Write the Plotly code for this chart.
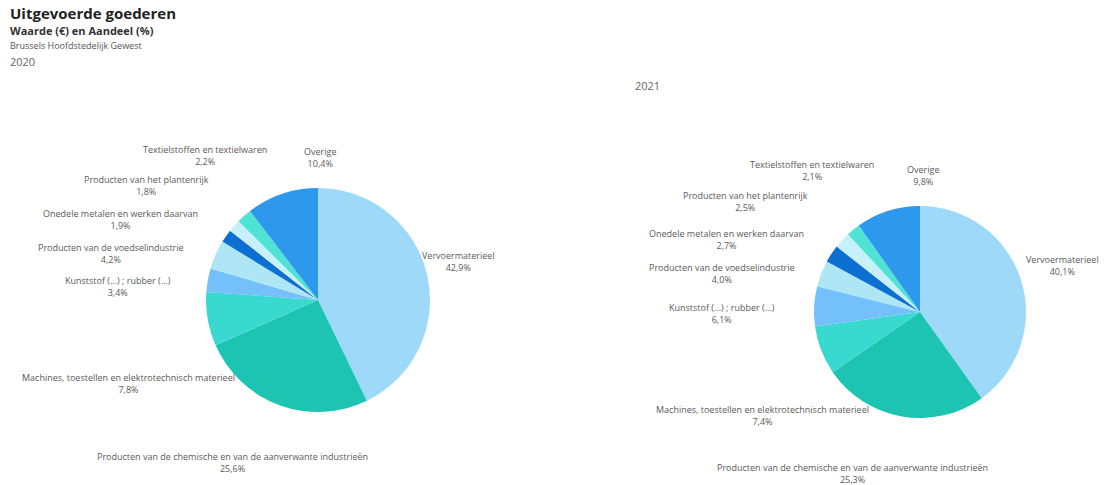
import plotly.graph_objects as go

categories = [
    "Vervoermaterieel",
    "Producten van de chemische en van de aanverwante industrieën",
    "Machines, toestellen en elektrotechnisch materieel",
    "Kunststof (...) ; rubber (...)",
    "Producten van de voedselindustrie",
    "Onedele metalen en werken daarvan",
    "Producten van het plantenrijk",
    "Textielstoffen en textielwaren",
    "Overige",
]
share_2020 = [42.9, 25.6, 7.8, 3.4, 4.2, 1.9, 1.8, 2.2, 10.4]
share_2021 = [40.1, 25.3, 7.4, 6.1, 4.0, 2.7, 2.5, 2.1, 9.8]
colors = ["#9fd9fa", "#1cc4b1", "#3ad9cf", "#74c0fb", "#aee6f5",
          "#0c6fd2", "#c8f0fa", "#4fe3d6", "#2e98ec"]

W, H = 1109, 485

# label anchor positions (window pixels) per category, per year
pos_2020 = [(458, 261), (232, 462), (128, 383), (118, 286), (111, 253),
            (120, 220), (146, 186), (205, 155), (320, 158)]
pos_2021 = [(1062, 265), (852, 473), (762, 415), (722, 313), (722, 273),
            (726, 239), (745, 201), (812, 170), (923, 175)]

def fx(px):
    return px / W

def fy(py):
    return 1 - py / H

def fmt(v):
    return f"{v:.1f}".replace(".", ",") + "%"

fig = go.Figure()

def add_pie(values, cx, cy, r):
    fig.add_trace(go.Pie(
        labels=categories, values=values, sort=False, direction="clockwise",
        rotation=0, marker=dict(colors=colors, line=dict(width=0)),
        textinfo="none", hoverinfo="label+percent", showlegend=False,
        domain=dict(x=[fx(cx - r), fx(cx + r)],
                    y=[fy(cy + r), fy(cy - r)]),
    ))

add_pie(share_2020, 318, 300, 112)
add_pie(share_2021, 920, 312, 106)

annotations = []
for vals, pos in ((share_2020, pos_2020), (share_2021, pos_2021)):
    for cat, v, (px, py) in zip(categories, vals, pos):
        annotations.append(dict(
            x=fx(px), y=fy(py), xref="paper", yref="paper",
            text=f"{cat}<br>{fmt(v)}", showarrow=False, align="center",
            xanchor="center", yanchor="middle",
            font=dict(family="Open Sans", size=9, color="#5a5a5a"),
        ))

titles = [
    ("Uitgevoerde goederen", 8, 13, 15, "#222222", True),
    ("Waarde (€) en Aandeel (%)", 8, 30, 11, "#333333", True),
    ("Brussels Hoofdstedelijk Gewest", 8, 45, 9, "#555555", False),
    ("2020", 8, 61, 11, "#666666", False),
    ("2021", 633, 85, 11, "#666666", False),
]
for txt, px, py, sz, col, bold in titles:
    annotations.append(dict(
        x=fx(px), y=fy(py), xref="paper", yref="paper",
        text=f"<b>{txt}</b>" if bold else txt, showarrow=False,
        xanchor="left", yanchor="middle",
        font=dict(family="Open Sans", size=sz, color=col),
    ))

fig.update_layout(
    width=W, height=H, margin=dict(l=0, r=0, t=0, b=0),
    paper_bgcolor="white", plot_bgcolor="white",
    annotations=annotations,
)

fig.write_html(
    "out.html",
    config={"displayModeBar": False},
    post_script="document.body.style.margin='0';document.body.style.overflow='hidden';",
)
